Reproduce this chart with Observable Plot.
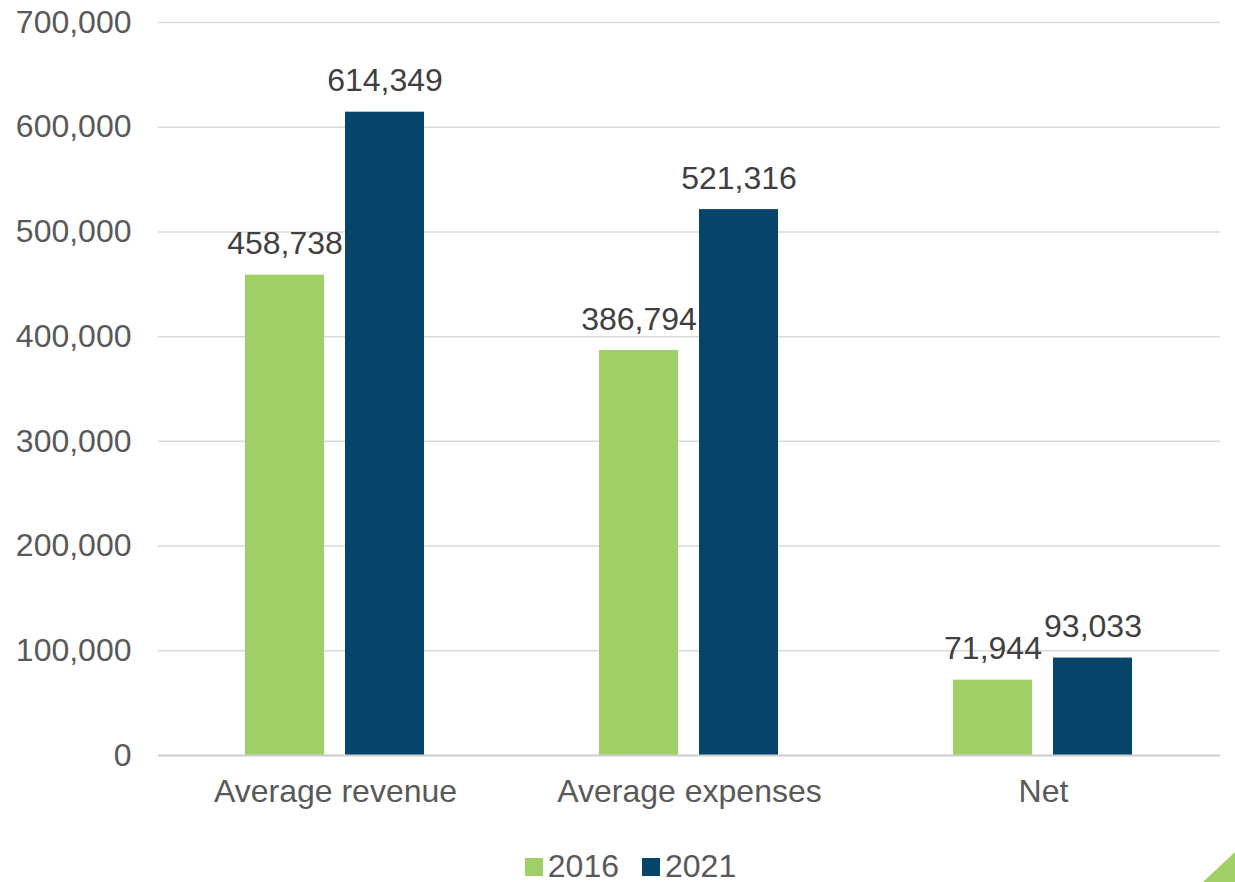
<!DOCTYPE html>
<html>
<head>
<meta charset="utf-8">
<script src="https://cdn.jsdelivr.net/npm/d3@7"></script>
<script src="https://cdn.jsdelivr.net/npm/@observablehq/plot@0.6"></script>
<style>
  html, body { margin: 0; padding: 0; background: #fff; }
  body { width: 1235px; height: 882px; position: relative; overflow: hidden; font-family: "Liberation Sans", Arial, sans-serif; }
  #legend { position: absolute; left: 0; top: 848px; width: 1235px; box-sizing: border-box; padding-left: 26px; display: flex; justify-content: center; gap: 23px; font-size: 32px; color: #595959; }
  .item { display: flex; align-items: center; }
  .sw { width: 18px; height: 18px; margin-right: 5px; }
  #corner { position: absolute; right: 0; bottom: 0; }
</style>
</head>
<body>
<div id="chart"></div>
<div id="legend"></div>
<svg id="corner" width="32" height="30"><polygon points="32,0 32,30 0,30" fill="#A0CF67"/></svg>
<script>
const categories = ["Average revenue", "Average expenses", "Net"];
const years = ["2016", "2021"];
const values2016 = [458738, 386794, 71944];
const values2021 = [614349, 521316, 93033];
const colors = ["#A0CF67", "#064469"];
const yTicks = [0, 100000, 200000, 300000, 400000, 500000, 600000, 700000];

const data = [];
categories.forEach((c, i) => {
  data.push({category: c, year: years[0], value: values2016[i]});
  data.push({category: c, year: years[1], value: values2021[i]});
});

const fmt = d3.format(",");

const chart = Plot.plot({
  width: 1235,
  height: 830,
  marginLeft: 157,
  marginRight: 15,
  marginTop: 22,
  marginBottom: 75,
  style: {fontFamily: "'Liberation Sans', Arial, sans-serif", fontSize: "32px", color: "#595959", background: "#fff"},
  fx: {domain: categories, paddingInner: 0, paddingOuter: 0, label: null, axis: null},
  x: {domain: years, paddingInner: 0.208, paddingOuter: 0.858, axis: null},
  y: {domain: [0, 700000], label: null, axis: null},
  color: {domain: years, range: colors},
  marks: [
    Plot.gridY(yTicks, {stroke: "#d9d9d9", strokeOpacity: 1, strokeWidth: 1.5}),
    Plot.axisY(yTicks, {tickSize: 0, tickPadding: 27, tickFormat: d => fmt(d), fill: "#595959", fontSize: 32, label: null}),
    Plot.axisFx({anchor: "bottom", tickSize: 0, tickPadding: 24, fill: "#595959", fontSize: 32, label: null}),
    Plot.barY(data, {fx: "category", x: "year", y: "value", fill: "year"}),
    Plot.ruleY([0], {stroke: "#d0d0d0", strokeWidth: 2}),
    Plot.text(data, {fx: "category", x: "year", y: "value", text: d => fmt(d.value), dy: -31, fill: "#404040", fontSize: 32})
  ]
});
document.getElementById("chart").appendChild(chart);

const legend = document.getElementById("legend");
years.forEach((y, i) => {
  const item = document.createElement("div");
  item.className = "item";
  const sw = document.createElement("div");
  sw.className = "sw";
  sw.style.background = colors[i];
  const t = document.createElement("span");
  t.textContent = y;
  item.appendChild(sw);
  item.appendChild(t);
  legend.appendChild(item);
});
</script>
</body>
</html>
